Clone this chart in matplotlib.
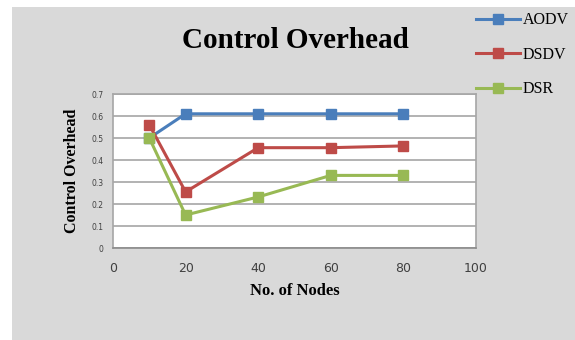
import matplotlib.pyplot as plt

nodes = [10, 20, 40, 60, 80]
aodv = [0.50, 0.61, 0.61, 0.61, 0.61]
dsdv = [0.56, 0.255, 0.456, 0.456, 0.464]
dsr = [0.50, 0.15, 0.232, 0.33, 0.33]

series = [("AODV", aodv, "#4a7ebb"), ("DSDV", dsdv, "#be4b48"), ("DSR", dsr, "#98b954")]

fig = plt.figure(figsize=(5.75, 3.4), dpi=100)
fig.patch.set_facecolor("white")
# gray chart background starting a bit in from the top-left
fig.patches.append(plt.Rectangle((12 / 575, 0), 1, 1 - 7 / 340, transform=fig.transFigure,
                                 facecolor="#d9d9d9", edgecolor="none", zorder=-1))

ax = fig.add_axes([113 / 575, 1 - 248 / 340, 363 / 575, 154 / 340])
ax.set_facecolor("white")

lines = []
for name, vals, col in series:
    ln, = ax.plot(nodes, vals, color=col, lw=2.2, marker="s", ms=6.5, label=name)
    lines.append(ln)

ax.set_xlim(0, 100)
ax.set_ylim(0, 0.7)
ax.set_xticks([0, 20, 40, 60, 80, 100])
ax.set_yticks([0, 0.1, 0.2, 0.3, 0.4, 0.5, 0.6, 0.7])
ax.set_yticklabels(["0", "0.1", "0.2", "0.3", "0.4", "0.5", "0.6", "0.7"])
ax.yaxis.grid(True, color="#a6a6a6", lw=1.2)
ax.set_axisbelow(True)
for s in ax.spines.values():
    s.set_color("#a6a6a6")
    s.set_linewidth(1.2)
ax.spines["bottom"].set_color("#8c8c8c")
ax.tick_params(length=0)
ax.tick_params(axis="x", labelsize=9, colors="#404040", pad=10)
ax.tick_params(axis="y", labelsize=5.5, colors="#404040", pad=7)

ax.set_xlabel("No. of Nodes", family="Liberation Serif", fontweight="bold", fontsize=12, labelpad=6)
ax.set_ylabel("Control Overhead", family="Liberation Serif", fontweight="bold", fontsize=11.5, labelpad=8)

fig.text(295 / 575, 1 - 41 / 340, "Control Overhead", family="Liberation Serif", fontweight="bold",
         fontsize=21, ha="center", va="center")

fig.legend(handles=lines, loc="upper left", bbox_to_anchor=(470 / 575, 1 - 6 / 340),
           frameon=False, prop={"family": "Liberation Serif", "size": 11.5},
           handlelength=2.7, handletextpad=0.2, labelspacing=1.15, borderaxespad=0)

fig.savefig("out.png", dpi=100)
